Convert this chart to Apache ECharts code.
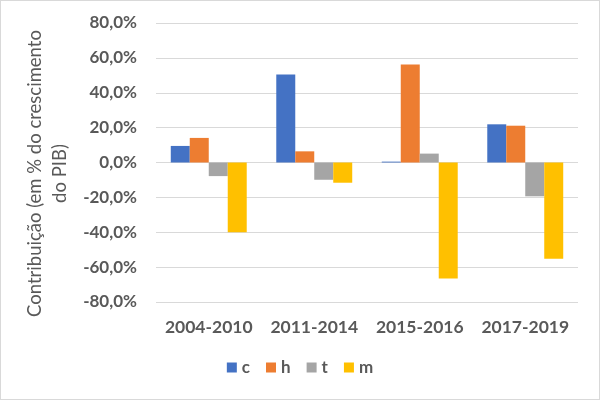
<!DOCTYPE html>
<html lang="pt">
<head>
<meta charset="UTF-8">
<script src="https://cdn.jsdelivr.net/npm/echarts@6/dist/echarts.min.js"></script>
</head>
<body style="margin: 0; background: #fff">
<div id="container" style="width: 598px; height: 398px; border: 1px solid #d9d9d9"></div>
<script>
    var periodos = ['2004-2010', '2011-2014', '2015-2016', '2017-2019'];
    var serieC = [9.5, 50.5, 0.5, 21.9];
    var serieH = [14.1, 6.4, 56.2, 21.1];
    var serieT = [-7.8, -9.9, 5.1, -19.4];
    var serieM = [-40.0, -11.6, -66.5, -55.2];
    var yTicks = { min: -80, max: 80, interval: 20 };

    var cinza = '#595959';
    var fonte = 'Lato, "Open Sans", sans-serif';

    var dom = document.getElementById('container');
    var myChart = echarts.init(dom);

    function barra(nome, dados, cor) {
        return {
            name: nome,
            type: 'bar',
            data: dados,
            barGap: '0%',
            barCategoryGap: '28%',
            itemStyle: { color: cor }
        };
    }

    var option = {
        animation: false,
        textStyle: { fontFamily: fonte },
        grid: { left: 155, right: 21, top: 22, bottom: 97 },
        legend: {
            bottom: 18,
            left: 'center',
            itemWidth: 10,
            itemHeight: 10,
            itemGap: 16,
            icon: 'rect',
            textStyle: { color: cinza, fontSize: 17, fontWeight: 'bold', fontFamily: fonte },
            data: ['c', 'h', 't', 'm']
        },
        xAxis: {
            type: 'category',
            data: periodos,
            position: 'bottom',
            axisLine: { show: false, onZero: false },
            axisTick: { show: false },
            axisLabel: { color: cinza, fontSize: 17.5, fontWeight: 'bold', margin: 16, interval: 0 }
        },
        yAxis: {
            type: 'value',
            min: yTicks.min,
            max: yTicks.max,
            interval: yTicks.interval,
            name: 'Contribuição (em % do crescimento\ndo PIB)',
            nameLocation: 'middle',
            nameRotate: 90,
            nameGap: 76,
            nameTextStyle: {
                color: cinza, fontSize: 18.5, lineHeight: 25, fontFamily: fonte,
                padding: [0, 22, 0, 0]
            },
            axisLine: { show: false },
            axisTick: { show: false },
            splitLine: { lineStyle: { color: '#d9d9d9' } },
            axisLabel: {
                color: cinza,
                fontSize: 17,
                fontWeight: 'bold',
                margin: 19,
                formatter: function (v) {
                    return v.toFixed(1).replace('.', ',') + '%';
                }
            }
        },
        series: [
            barra('c', serieC, '#4472c4'),
            barra('h', serieH, '#ed7d31'),
            barra('t', serieT, '#a5a5a5'),
            barra('m', serieM, '#ffc000')
        ]
    };

    myChart.setOption(option);
</script>
</body>
</html>
